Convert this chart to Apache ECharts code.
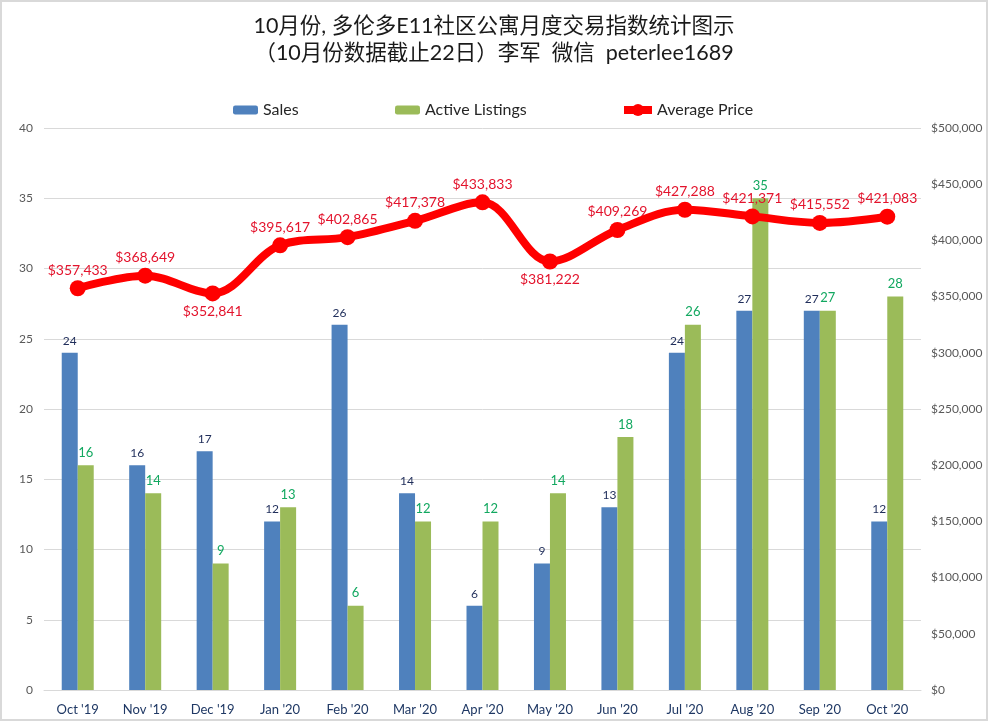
<!DOCTYPE html>
<html>
<head>
<meta charset="utf-8">
<script src="https://cdn.jsdelivr.net/npm/echarts@6/dist/echarts.min.js"></script>
<style>
html, body { margin: 0; padding: 0; background: #fff; }
#chart { width: 988px; height: 721px; }
</style>
</head>
<body>
<div id="chart"></div>
<script>
var months = ["Oct '19", "Nov '19", "Dec '19", "Jan '20", "Feb '20", "Mar '20", "Apr '20", "May '20", "Jun '20", "Jul '20", "Aug '20", "Sep '20", "Oct '20"];
var sales = [24, 16, 17, 12, 26, 14, 6, 9, 13, 24, 27, 27, 12];
var listings = [16, 14, 9, 13, 6, 12, 12, 14, 18, 26, 35, 27, 28];
var prices = [357433, 368649, 352841, 395617, 402865, 417378, 433833, 381222, 409269, 427288, 421371, 415552, 421083];
// 这两个月的价格标签在线的下方
var priceBelow = ["Dec '19", "May '20"];

var font = 'Lato, "Noto Sans CJK SC", sans-serif';
var latin = 'Lato, "Noto Sans", sans-serif';
var legendText = { fontFamily: latin, fontSize: 16, color: '#262626' };

function money(v) {
	return '$' + v.toLocaleString('en-US');
}

var myChart = echarts.init(document.getElementById("chart"));
var option = {
	animation: false,
	backgroundColor: '#fff',
	title: {
		text: '10月份, 多伦多E11社区公寓月度交易指数统计图示\n（10月份数据截止22日）李军  微信  peterlee1689',
		left: 'center',
		top: 8,
		textStyle: {
			fontFamily: font,
			fontSize: 21.5,
			fontWeight: 'normal',
			color: '#1a1a1a',
			lineHeight: 27
		}
	},
	legend: [{
		top: 102,
		left: 233,
		padding: 0,
		itemWidth: 25,
		itemHeight: 9,
		textStyle: legendText,
		data: ['Sales']
	}, {
		top: 102,
		left: 395,
		padding: 0,
		itemWidth: 25,
		itemHeight: 9,
		textStyle: legendText,
		data: ['Active Listings']
	}, {
		top: 102,
		left: 620,
		padding: 0,
		itemWidth: 28,
		itemHeight: 15,
		lineStyle: { width: 8 },
		textStyle: legendText,
		data: ['Average Price']
	}],
	grid: { left: 44, right: 67, top: 128, bottom: 31 },
	xAxis: {
		type: 'category',
		data: months,
		axisTick: { show: false },
		axisLine: { lineStyle: { color: '#d9d9d9' } },
		axisLabel: { fontFamily: latin, fontSize: 13, color: '#1f3864', margin: 13 }
	},
	yAxis: [{
		type: 'value',
		min: 0,
		max: 40,
		interval: 5,
		axisLine: { show: false },
		axisTick: { show: false },
		axisLabel: { fontFamily: latin, fontSize: 12, color: '#595959', margin: 11 },
		splitLine: { lineStyle: { color: '#d9d9d9' } }
	}, {
		type: 'value',
		min: 0,
		max: 500000,
		interval: 50000,
		axisLine: { show: false },
		axisTick: { show: false },
		splitLine: { show: false },
		axisLabel: {
			fontFamily: latin,
			fontSize: 12,
			color: '#595959',
			margin: 10,
			formatter: money
		}
	}],
	series: [{
		name: 'Sales',
		type: 'bar',
		data: sales,
		barWidth: 16,
		barGap: 0,
		itemStyle: { color: '#4f81bd' },
		label: { show: true, position: 'top', fontFamily: latin, fontSize: 12, color: '#1f2d5a', distance: 6 }
	}, {
		name: 'Active Listings',
		type: 'bar',
		data: listings,
		barWidth: 16,
		itemStyle: { color: '#9bbb59' },
		label: { show: true, position: 'top', fontFamily: latin, fontSize: 13, color: '#12a860', distance: 6 }
	}, {
		name: 'Average Price',
		type: 'line',
		yAxisIndex: 1,
		data: prices.map(function(v, i) {
			return {
				value: v,
				label: { position: priceBelow.indexOf(months[i]) >= 0 ? 'bottom' : 'top' }
			};
		}),
		smooth: 0.35,
		symbol: 'circle',
		symbolSize: 16,
		z: 5,
		lineStyle: { color: '#ff0000', width: 8 },
		itemStyle: { color: '#ff0000' },
		label: {
			show: true,
			fontFamily: latin,
			fontSize: 14,
			color: '#e3132c',
			distance: 3,
			formatter: function(p) {
				return money(p.value);
			}
		}
	}],
	graphic: [{
		type: 'rect',
		silent: true,
		z: 100,
		shape: { x: 1, y: 1, width: 986, height: 719 },
		style: { fill: 'none', stroke: '#d9d9d9', lineWidth: 2 }
	}]
};
myChart.setOption(option);
</script>
</body>
</html>
